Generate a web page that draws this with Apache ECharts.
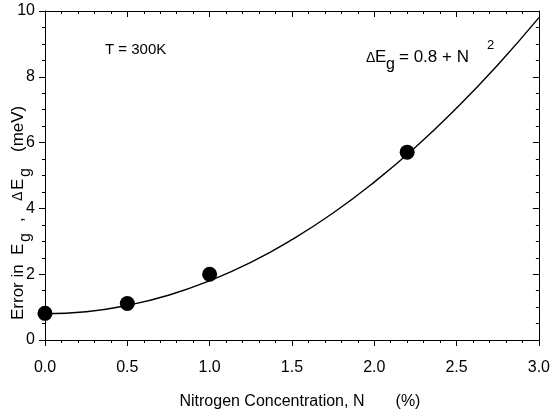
<!DOCTYPE html>
<html>
<head>
<meta charset="utf-8">
<script src="https://cdn.jsdelivr.net/npm/echarts@6/dist/echarts.min.js"></script>
<style>
  html, body { margin: 0; padding: 0; background: #fff; }
  #chart { width: 553px; height: 418px; }
</style>
</head>
<body>
<div id="chart"></div>
<script>
// measured points
var measN = [0.0, 0.5, 1.0, 2.2];
var measErr = [0.81, 1.11, 2.0, 5.71];

// fitted curve
var curveN = [0, 0.25, 0.5, 0.75, 1.0, 1.25, 1.5, 1.75, 2.0, 2.25, 2.5, 2.75, 3.0];
var curveErr = [0.8, 0.86, 1.05, 1.36, 1.8, 2.36, 3.05, 3.86, 4.8, 5.86, 7.05, 8.36, 9.8];

var xTitle = 'Nitrogen Concentration, N       (%)';

var FONT = 'Liberation Sans, Arial, sans-serif';

function pairs(a, b) {
    return a.map(function (v, i) { return [v, b[i]]; });
}

var mychart = echarts.init(document.getElementById('chart'));
mychart.setOption(getOption());

function getOption() {
    var lineStyle = { color: '#000', width: 1 };
    var baseX = {
        type: 'value', min: 0, max: 3, interval: 0.5,
        axisLine: { show: true, onZero: false, lineStyle: lineStyle },
        splitLine: { show: false },
        minorSplitLine: { show: false }
    };
    var baseY = {
        type: 'value', min: 0, max: 10, interval: 2,
        axisLine: { show: true, onZero: false, lineStyle: lineStyle },
        splitLine: { show: false },
        minorSplitLine: { show: false }
    };
    var option = {
        backgroundColor: '#ffffff',
        animation: false,
        grid: { left: 45, right: 10, top: 11, bottom: 78 },
        xAxis: [
            Object.assign({}, baseX, {
                position: 'bottom',
                name: xTitle,
                nameLocation: 'middle',
                nameGap: 54,
                nameTextStyle: { color: '#000', fontSize: 16, fontFamily: FONT, padding: [0, 0, 0, 16] },
                axisTick: { show: true, inside: false, length: 6, lineStyle: lineStyle },
                minorTick: { show: true, splitNumber: 5, length: 3, lineStyle: lineStyle },
                axisLabel: {
                    color: '#000', fontSize: 16, fontFamily: FONT, margin: 20,
                    formatter: function (v) { return v.toFixed(1); }
                }
            }),
            Object.assign({}, baseX, {
                position: 'top',
                axisTick: { show: true, inside: true, length: 6, lineStyle: lineStyle },
                minorTick: { show: true, splitNumber: 5, length: 3, lineStyle: lineStyle },
                axisLabel: { show: false }
            })
        ],
        yAxis: [
            Object.assign({}, baseY, {
                position: 'left',
                axisTick: { show: true, inside: false, length: 6, lineStyle: lineStyle },
                minorTick: { show: true, splitNumber: 4, length: 3, lineStyle: lineStyle },
                axisLabel: { color: '#000', fontSize: 16, fontFamily: FONT, margin: 10 }
            }),
            Object.assign({}, baseY, {
                position: 'right',
                axisTick: { show: true, inside: true, length: 6, lineStyle: lineStyle },
                minorTick: { show: true, splitNumber: 4, length: 3, lineStyle: lineStyle },
                axisLabel: { show: false }
            })
        ],
        graphic: [
            {
                type: 'text', left: 105, top: 42,
                style: { text: 'T = 300K', fill: '#000', font: '15px ' + FONT }
            },
            {
                // formula, top right
                type: 'group', x: 0, y: 0,
                children: [
                    { type: 'text', x: 366, y: 58, style: { text: '\u0394', fill: '#000', font: '14px ' + FONT, verticalAlign: 'middle' } },
                    { type: 'text', x: 375, y: 57, style: { text: 'E', fill: '#000', font: '17px ' + FONT, verticalAlign: 'middle' } },
                    { type: 'text', x: 386, y: 65, style: { text: 'g', fill: '#000', font: '16px ' + FONT, verticalAlign: 'middle' } },
                    { type: 'text', x: 399, y: 57, style: { text: '= 0.8 + N', fill: '#000', font: '17px ' + FONT, verticalAlign: 'middle' } },
                    { type: 'text', x: 487, y: 45, style: { text: '2', fill: '#000', font: '13px ' + FONT, verticalAlign: 'middle' } }
                ]
            },
            {
                // y axis title, rotated
                type: 'group', x: 18, y: 320, rotation: Math.PI / 2,
                children: [
                    { type: 'text', x: 0, y: 0, style: { text: 'Error in', fill: '#000', font: '17px ' + FONT, verticalAlign: 'middle' } },
                    { type: 'text', x: 65, y: 0, style: { text: 'E', fill: '#000', font: '17px ' + FONT, verticalAlign: 'middle' } },
                    { type: 'text', x: 78, y: 8, style: { text: 'g', fill: '#000', font: '16px ' + FONT, verticalAlign: 'middle' } },
                    { type: 'text', x: 98, y: 0, style: { text: ',', fill: '#000', font: '17px ' + FONT, verticalAlign: 'middle' } },
                    { type: 'text', x: 119, y: 0, style: { text: '\u0394', fill: '#000', font: '14px ' + FONT, verticalAlign: 'middle' } },
                    { type: 'text', x: 130, y: 0, style: { text: 'E', fill: '#000', font: '17px ' + FONT, verticalAlign: 'middle' } },
                    { type: 'text', x: 143, y: 8, style: { text: 'g', fill: '#000', font: '16px ' + FONT, verticalAlign: 'middle' } },
                    { type: 'text', x: 168, y: 0, style: { text: '(meV)', fill: '#000', font: '17px ' + FONT, verticalAlign: 'middle' } }
                ]
            }
        ],
        series: [
            {
                type: 'line',
                data: pairs(curveN, curveErr),
                smooth: true,
                showSymbol: false,
                lineStyle: { color: '#000', width: 1.4 },
                z: 2
            },
            {
                type: 'scatter',
                data: pairs(measN, measErr),
                symbol: 'circle',
                symbolSize: 15,
                itemStyle: { color: '#000', opacity: 1 },
                z: 3
            }
        ]
    };
    return option;
}
</script>
</body>
</html>
